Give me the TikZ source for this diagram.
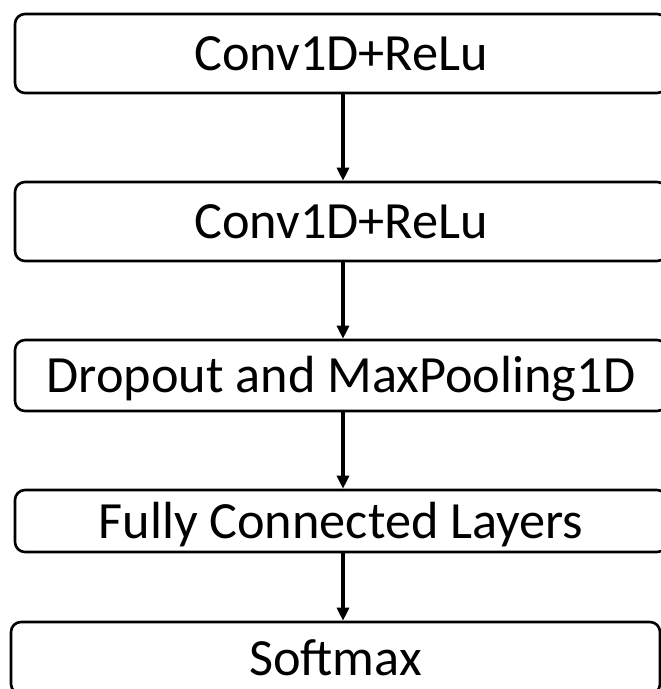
\documentclass[tikz,border=0pt]{standalone}
\usepackage{fontspec}
\setmainfont{Carlito}
\usetikzlibrary{arrows.meta}
\begin{document}
\begin{tikzpicture}[x=1pt,y=-1pt,
  layer/.style={draw=black, line width=2.6pt, rounded corners=10pt, fill=white,
    inner sep=0pt, text height=34pt, text depth=0pt,
    font=\fontsize{52.3}{60}\selectfont},
  flow/.style={line width=3.2pt, -{Triangle[width=12pt,length=13pt]}}]
\useasboundingbox (0,0) rectangle (661,689);
\clip (0,0) rectangle (661,689);
\node[layer, minimum width=652pt, minimum height=79pt] (b1) at (341,53.5) {Conv1D+ReLu};
\node[layer, minimum width=652pt, minimum height=79pt] (b2) at (341,221.5) {Conv1D+ReLu};
\node[layer, minimum width=652pt, minimum height=71pt] (b3) at (341,375.5) {Dropout and MaxPooling1D};
\node[layer, minimum width=652pt, minimum height=62pt] (b4) at (341,521) {Fully Connected Layers};
\node[layer, minimum width=649pt, minimum height=72pt] (b5) at (335.5,658) {Softmax};
\draw[flow] ([xshift=2pt]b1.south) -- ([xshift=2pt]b1.south |- b2.north);
\draw[flow] ([xshift=2pt]b2.south) -- ([xshift=2pt]b2.south |- b3.north);
\draw[flow] ([xshift=2pt]b3.south) -- ([xshift=2pt]b3.south |- b4.north);
\draw[flow] ([xshift=2pt]b4.south) -- ([xshift=2pt]b4.south |- b5.north);
\end{tikzpicture}
\end{document}
